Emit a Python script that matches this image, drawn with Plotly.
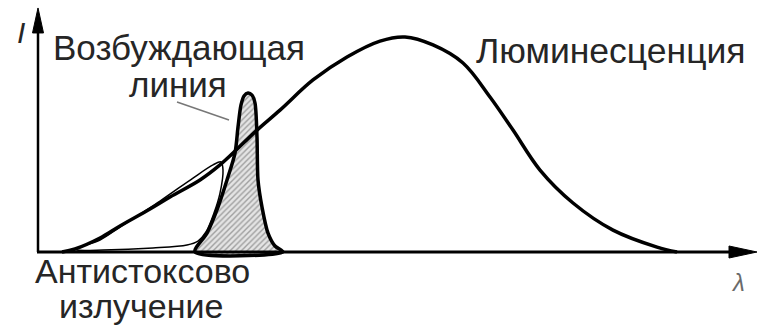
import plotly.graph_objects as go

W, H = 759, 332

# Luminescence band: wavelength (arbitrary units) and intensity (peak = 100)
lum_wl = [62, 75, 100, 120, 150, 170, 200, 220, 233, 257, 280, 313, 347, 380,
          405, 433, 463, 490, 513, 540, 573, 613, 657, 677]
lum_int = [0, 1.4, 6.5, 12.1, 20.0, 25.6, 33.5, 40.5, 46.0, 56.7, 66.0, 80.0,
           90.7, 98.1, 100.0, 96.3, 87.9, 72.1, 56.7, 38.1, 22.8, 10.2, 2.3, 0]

# Exciting line (narrow band), closed contour
exc_wl = [195, 207, 218, 227, 235, 238, 241, 244, 248, 252, 255, 257, 258, 262,
          268, 275, 283, 195]
exc_int = [0, 8.8, 20.9, 33.5, 46.0, 58.1, 68.4, 72.6, 74.0, 73.0, 69.3, 53.5,
           33.5, 20.9, 8.8, 2.8, 0, 0]

# Anti-Stokes emission region, closed contour
as_wl = [75, 100, 120, 160, 193, 213, 221, 223, 220, 214, 206, 198, 187, 153,
         103, 77, 75]
as_int = [1.4, 5.6, 11.6, 23.7, 34.4, 40.5, 41.9, 38.1, 27.4, 18.1, 9.3, 5.1,
          3.3, 1.9, 0.9, 0.9, 1.4]

# Labels: text, wavelength position, intensity position, font size
label_texts = ["Возбуждающая", "линия", "Люминесценция",
               "Антистоксово", "излучение"]
label_wl = [179, 178, 611, 142, 141]
label_int = [94.9, 77.7, 93.5, -8.6, -25.3]
label_size = [35, 35, 35.5, 34, 34]

X_RANGE = [0, W]
Y_RANGE = [-37.2, 117.2]
ORIGIN_X = 38
X_TIP = 757
Y_TIP = 113.5


def dy(px):
    """Pixel distance expressed in intensity units."""
    return px * (Y_RANGE[1] - Y_RANGE[0]) / H


FONT = "Liberation Sans, Arial, sans-serif"
TEXT_COLOR = "#262626"

fig = go.Figure()

# Anti-Stokes region: white fill, thin outline
fig.add_trace(go.Scatter(
    x=as_wl, y=as_int, mode="lines", fill="toself", fillcolor="white",
    line=dict(color="black", width=1.5, shape="spline", smoothing=0.9),
    hoverinfo="skip", showlegend=False,
))

# Exciting line: hatched fill with heavy outline
fig.add_trace(go.Scatter(
    x=exc_wl, y=exc_int, mode="lines", fill="toself",
    line=dict(color="black", width=3.5, shape="spline", smoothing=0.8),
    fillcolor="white",
    fillpattern=dict(shape="/", fgcolor="#5a5a5a", bgcolor="#e4e4e4",
                     size=4, solidity=0.35),
    hoverinfo="skip", showlegend=False,
))

# Luminescence band
fig.add_trace(go.Scatter(
    x=lum_wl, y=lum_int, mode="lines",
    line=dict(color="black", width=3.5, shape="spline", smoothing=1.0),
    hoverinfo="skip", showlegend=False,
))

shapes = [
    # intensity axis
    dict(type="line", x0=ORIGIN_X, x1=ORIGIN_X, y0=0, y1=Y_TIP - dy(20),
         line=dict(color="black", width=2.5)),
    # wavelength axis
    dict(type="line", x0=ORIGIN_X - 1, x1=X_TIP - 22, y0=0, y1=0,
         line=dict(color="black", width=3)),
    # arrowheads
    dict(type="path",
         path=f"M {ORIGIN_X} {Y_TIP} L {ORIGIN_X - 5.5} {Y_TIP - dy(25)} "
              f"L {ORIGIN_X + 5.5} {Y_TIP - dy(25)} Z",
         fillcolor="black", line=dict(color="black", width=1)),
    dict(type="path",
         path=f"M {X_TIP} 0 L {X_TIP - 28} {dy(6)} L {X_TIP - 28} {-dy(6)} Z",
         fillcolor="black", line=dict(color="black", width=1)),
    # leader from the label to the exciting line
    dict(type="line", x0=177, y0=69.8, x1=229, y1=61.4,
         line=dict(color="#777777", width=1.5)),
]

annotations = [
    dict(x=x, y=y, text=t, showarrow=False, xanchor="center", yanchor="middle",
         borderpad=0, borderwidth=0,
         font=dict(family=FONT, size=s, color=TEXT_COLOR))
    for t, x, y, s in zip(label_texts, label_wl, label_int, label_size)
]
annotations += [
    dict(x=21, y=102.3, text="<i>I</i>", showarrow=False,
         xanchor="center", yanchor="middle", borderpad=0, borderwidth=0,
         font=dict(family=FONT, size=30, color=TEXT_COLOR)),
    dict(x=738, y=-14, text="<i>λ</i>", showarrow=False,
         xanchor="center", yanchor="middle", borderpad=0, borderwidth=0,
         font=dict(family=FONT, size=24, color="#6a6a6a")),
]

fig.update_layout(
    width=W, height=H,
    margin=dict(l=0, r=0, t=0, b=0),
    paper_bgcolor="white", plot_bgcolor="white",
    xaxis=dict(range=X_RANGE, visible=False, fixedrange=True),
    yaxis=dict(range=Y_RANGE, visible=False, fixedrange=True),
    shapes=shapes, annotations=annotations,
    showlegend=False,
)

fig.write_html("out.html")
